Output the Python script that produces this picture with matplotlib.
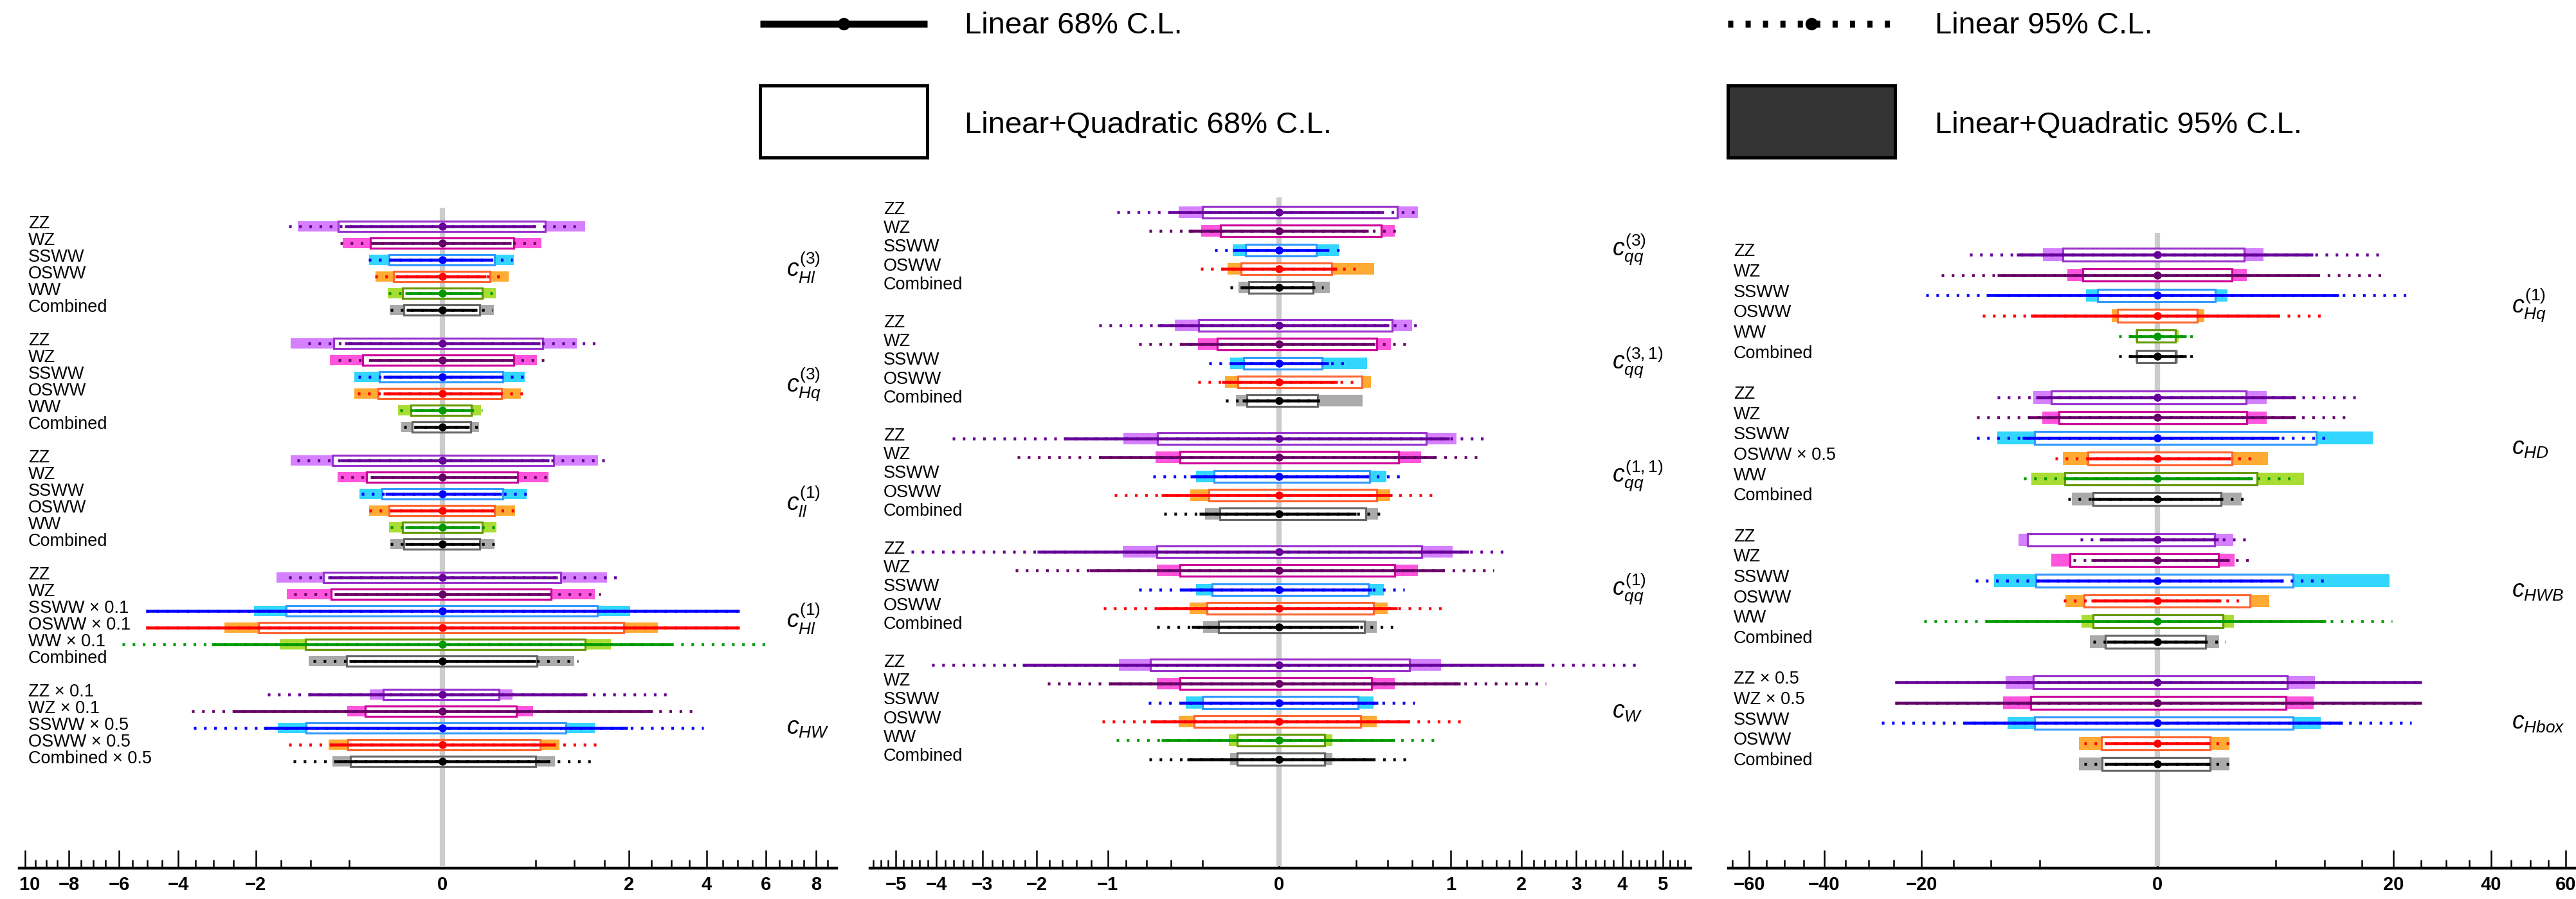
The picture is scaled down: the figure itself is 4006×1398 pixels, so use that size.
import numpy as np
import matplotlib
matplotlib.use('Agg')
import matplotlib.pyplot as plt
from matplotlib import transforms
from matplotlib.patches import Rectangle

plt.rcParams['font.family'] = ['Liberation Sans', 'DejaVu Sans']
plt.rcParams['mathtext.fontset'] = 'custom'
plt.rcParams['mathtext.it'] = 'Liberation Sans:italic'
plt.rcParams['mathtext.rm'] = 'Liberation Sans'

# ---------------- data (values in coefficient units) ----------------
# left panel
cHl3 = dict(label=r'$\mathit{c}_{\mathit{Hl}}^{\mathit{(3)}}$',
            rows=['ZZ', 'WZ', 'SSWW', 'OSWW', 'WW', 'Combined'],
            lin68=[(-0.55, 0.50), (-0.28, 0.27), (-0.15, 0.14), (-0.12, 0.11), (-0.08, 0.08), (-0.075, 0.07)],
            lin95=[(-1.36, 1.02), (-0.60, 0.54), (-0.315, 0.28), (-0.26, 0.23), (-0.166, 0.156), (-0.156, 0.143)],
            lq68=[(-0.62, 0.61), (-0.30, 0.29), (-0.163, 0.156), (-0.137, 0.131), (-0.09, 0.09), (-0.085, 0.08)],
            lq95=[(-1.20, 1.17), (-0.573, 0.561), (-0.306, 0.292), (-0.258, 0.249), (-0.173, 0.163), (-0.159, 0.150)])
cHq3 = dict(label=r'$\mathit{c}_{\mathit{Hq}}^{\mathit{(3)}}$',
            rows=['ZZ', 'WZ', 'SSWW', 'OSWW', 'WW', 'Combined'],
            lin68=[(-0.55, 0.55), (-0.30, 0.28), (-0.20, 0.20), (-0.20, 0.19), (-0.05, 0.045), (-0.045, 0.042)],
            lin95=[(-1.04, 1.36), (-0.625, 0.658), (-0.405, 0.432), (-0.416, 0.427), (-0.103, 0.092), (-0.085, 0.09)],
            lq68=[(-0.678, 0.579), (-0.364, 0.292), (-0.229, 0.209), (-0.237, 0.202), (-0.056, 0.049), (-0.052, 0.045)],
            lq95=[(-1.32, 1.04), (-0.727, 0.512), (-0.443, 0.389), (-0.443, 0.354), (-0.114, 0.085), (-0.097, 0.078)])
cll1 = dict(label=r'$\mathit{c}_{\mathit{ll}}^{\mathit{(1)}}$',
            rows=['ZZ', 'WZ', 'SSWW', 'OSWW', 'WW', 'Combined'],
            lin68=[(-0.60, 0.65), (-0.30, 0.32), (-0.19, 0.20), (-0.15, 0.15), (-0.08, 0.08), (-0.08, 0.08)],
            lin95=[(-1.215, 1.557), (-0.592, 0.672), (-0.374, 0.416), (-0.306, 0.306), (-0.156, 0.166), (-0.156, 0.156)],
            lq68=[(-0.692, 0.706), (-0.33, 0.325), (-0.209, 0.209), (-0.163, 0.156), (-0.09, 0.09), (-0.085, 0.08)],
            lq95=[(-1.32, 1.39), (-0.631, 0.645), (-0.395, 0.405), (-0.306, 0.301), (-0.163, 0.166), (-0.156, 0.156)])
cHl1 = dict(label=r'$\mathit{c}_{\mathit{Hl}}^{\mathit{(1)}}$',
            rows=['ZZ', 'WZ', 'SSWW × 0.1', 'OSWW × 0.1', 'WW × 0.1', 'Combined'],
            lin68=[(-0.75, 0.76), (-0.67, 0.66), (-5.05, 5.05), (-5.05, 5.05), (-3.05, 3.01), (-0.50, 0.50)],
            lin95=[(-1.357, 1.772), (-1.261, 1.435), (-5.05, 5.05), (-5.05, 5.05), (-5.88, 6.02), (-0.956, 1.056)],
            lq68=[(-0.815, 0.80), (-0.713, 0.678), (-1.405, 1.376), (-1.942, 1.884), (-1.073, 1.17), (-0.53, 0.512)],
            lq95=[(-1.578, 1.557), (-1.386, 1.328), (-2.036, 2.024), (-2.727, 2.659), (-1.516, 1.631), (-1.022, 0.997)])
cHW = dict(label=r'$\mathit{c}_{\mathit{HW}}$',
           rows=['ZZ × 0.1', 'WZ × 0.1', 'SSWW × 0.5', 'OSWW × 0.5', 'Combined × 0.5'],
           lin68=[(-1.039, 1.197), (-2.50, 2.54), (-1.83, 1.965), (-0.727, 0.727), (-0.645, 0.658)],
           lin95=[(-1.75, 3.01), (-3.61, 3.61), (-3.55, 3.90), (-1.357, 1.376), (-1.28, 1.29)],
           lq68=[(-0.202, 0.184), (-0.339, 0.315), (-1.064, 0.876), (-0.512, 0.548), (-0.483, 0.50)],
           lq95=[(-0.301, 0.283), (-0.518, 0.471), (-1.557, 1.337), (-0.741, 0.785), (-0.692, 0.727)])

# middle panel
cqq3 = dict(label=r'$\mathit{c}_{\mathit{qq}}^{\mathit{(3)}}$',
            rows=['ZZ', 'WZ', 'SSWW', 'OSWW', 'Combined'],
            lin68=[(-0.411, 0.352), (-0.28, 0.27), (-0.074, 0.080), (-0.113, 0.113), (-0.046, 0.043)],
            lin95=[(-0.894, 0.632), (-0.577, 0.488), (-0.143, 0.136), (-0.21, 0.201), (-0.083, 0.066)],
            lq68=[(-0.201, 0.475), (-0.118, 0.352), (-0.039, 0.046), (-0.050, 0.093), (-0.031, 0.039)],
            lq95=[(-0.344, 0.652), (-0.207, 0.453), (-0.074, 0.12), (-0.091, 0.307), (-0.056, 0.087)])
cqq31 = dict(label=r'$\mathit{c}_{\mathit{qq}}^{\mathit{(3,1)}}$',
             rows=['ZZ', 'WZ', 'SSWW', 'OSWW', 'Combined'],
             lin68=[(-0.506, 0.411), (-0.325, 0.297), (-0.083, 0.083), (-0.113, 0.115), (-0.046, 0.050)],
             lin95=[(-1.105, 0.711), (-0.668, 0.543), (-0.168, 0.16), (-0.225, 0.216), (-0.097, 0.074)],
             lq68=[(-0.222, 0.436), (-0.131, 0.325), (-0.043, 0.0625), (-0.059, 0.231), (-0.035, 0.050)],
             lq95=[(-0.371, 0.602), (-0.225, 0.423), (-0.083, 0.263), (-0.101, 0.287), (-0.064, 0.237)])
cqq11 = dict(label=r'$\mathit{c}_{\mathit{qq}}^{\mathit{(1,1)}}$',
             rows=['ZZ', 'WZ', 'SSWW', 'OSWW', 'Combined'],
             lin68=[(-1.58, 0.987), (-1.105, 0.834), (-0.27, 0.27), (-0.475, 0.432), (-0.216, 0.201)],
             lin95=[(-3.64, 1.43), (-2.34, 1.39), (-0.543, 0.506), (-0.925, 0.834), (-0.453, 0.383)],
             lq68=[(-0.506, 0.738), (-0.333, 0.484), (-0.145, 0.28), (-0.168, 0.322), (-0.12, 0.256)],
             lq95=[(-0.829, 1.072), (-0.52, 0.684), (-0.237, 0.391), (-0.27, 0.419), (-0.187, 0.333)])
cqq1 = dict(label=r'$\mathit{c}_{\mathit{qq}}^{\mathit{(1)}}$',
            rows=['ZZ', 'WZ', 'SSWW', 'OSWW', 'Combined'],
            lin68=[(-1.989, 1.223), (-1.223, 0.925), (-0.325, 0.29), (-0.511, 0.475), (-0.263, 0.216)],
            lin95=[(-4.61, 1.786), (-2.367, 1.5625), (-0.668, 0.534), (-1.052, 0.912), (-0.511, 0.44)],
            lq68=[(-0.511, 0.694), (-0.333, 0.453), (-0.153, 0.27), (-0.179, 0.304), (-0.124, 0.247)],
            lq95=[(-0.834, 1.019), (-0.511, 0.652), (-0.237, 0.371), (-0.273, 0.399), (-0.196, 0.322)])
cW = dict(label=r'$\mathit{c}_{\mathit{W}}$',
          rows=['ZZ', 'WZ', 'SSWW', 'OSWW', 'WW', 'Combined'],
          lin68=[(-2.24, 2.347), (-0.975, 1.119), (-0.325, 0.333), (-0.567, 0.577), (-0.475, 0.453), (-0.29, 0.297)],
          lin95=[(-4.10, 4.34), (-1.829, 2.416), (-0.582, 0.627), (-1.065, 1.153), (-0.906, 0.864), (-0.577, 0.592)],
          lq68=[(-0.567, 0.577), (-0.333, 0.29), (-0.201, 0.21), (-0.247, 0.225), (-0.061, 0.071), (-0.061, 0.071)],
          lq95=[(-0.876, 0.894), (-0.511, 0.453), (-0.297, 0.304), (-0.344, 0.325), (-0.087, 0.097), (-0.083, 0.097)])

# right panel
cHq1 = dict(label=r'$\mathit{c}_{\mathit{Hq}}^{\mathit{(1)}}$',
            rows=['ZZ', 'WZ', 'SSWW', 'OSWW', 'WW', 'Combined'],
            lin68=[(-7.13, 8.72), (-9.22, 9.22), (-10.54, 11.8), (-5.8, 5.31), (-0.308, 0.296), (-0.308, 0.296)],
            lin95=[(-12.68, 18.43), (-16.85, 18.43), (-19.34, 23.4), (-11.02, 10.2), (-0.537, 0.617), (-0.537, 0.617)],
            lq68=[(-3.24, 2.70), (-2.0, 2.0), (-1.279, 1.209), (-0.568, 0.568), (-0.158, 0.112), (-0.158, 0.112)],
            lq95=[(-4.74, 4.04), (-2.91, 2.88), (-1.853, 1.768), (-0.755, 0.792), (-0.175, 0.158), (-0.175, 0.15)])
cHD = dict(label=r'$\mathit{c}_{\mathit{HD}}$',
           rows=['ZZ', 'WZ', 'SSWW', 'OSWW × 0.5', 'WW', 'Combined'],
           lin68=[(-5.31, 6.85), (-6.05, 6.85), (-6.58, 5.31), (-1.85, 1.91), (-3.17, 3.24), (-1.58, 1.45)],
           lin95=[(-9.22, 14.6), (-11.72, 13.66), (-11.72, 10.33), (-3.75, 3.47), (-6.42, 6.32), (-2.88, 2.81)],
           lq68=[(-4.08, 2.81), (-3.47, 2.88), (-5.45, 9.09), (-1.74, 2.0), (-3.09, 3.55), (-1.5, 1.45)],
           lq95=[(-5.55, 4.3), (-4.79, 4.26), (-9.22, 16.68), (-3.24, 4.39), (-5.7, 7.7), (-2.63, 2.53)])
cHWB = dict(label=r'$\mathit{c}_{\mathit{HWB}}$',
            rows=['ZZ', 'WZ', 'SSWW', 'OSWW', 'WW', 'Combined'],
            lin68=[(-1.21, 1.33), (-1.58, 1.85), (-5.31, 5.7), (-1.58, 1.45), (-10.54, 10.2), (-0.93, 0.83)],
            lin95=[(-2.15, 2.88), (-2.57, 3.47), (-11.94, 10.54), (-3.17, 2.81), (-19.6, 19.8), (-1.5, 1.66)],
            lq68=[(-6.06, 1.16), (-2.74, 1.33), (-5.31, 6.58), (-1.94, 3.06), (-1.5, 1.53), (-0.99, 0.83)],
            lq95=[(-6.96, 2.06), (-4.08, 2.15), (-9.61, 19.34), (-3.06, 4.47), (-2.09, 2.09), (-1.66, 1.375)])
cHbox = dict(label=r'$\mathit{c}_{\mathit{Hbox}}$',
             rows=['ZZ × 0.5', 'WZ × 0.5', 'SSWW', 'OSWW', 'Combined'],
             lin68=[(-24.74, 25.05), (-24.74, 25.05), (-13.43, 12.3), (-0.99, 0.99), (-0.99, 0.99)],
             lin95=[(-24.74, 25.05), (-24.74, 25.05), (-27.4, 23.2), (-1.94, 2.06), (-1.94, 2.0)],
             lq68=[(-5.55, 6.06), (-5.8, 5.95), (-5.45, 6.58), (-1.14, 0.99), (-1.096, 0.99)],
             lq95=[(-8.29, 8.91), (-8.6, 8.78), (-8.11, 9.54), (-2.24, 1.853), (-2.21, 1.853)])

# axis ticks
left_major = [-10, -8, -6, -4, -2, 0, 2, 4, 6, 8]
left_major_labels = ['−10', '−8', '−6', '−4', '−2', '0', '2', '4', '6', '8']
mid_major = [-5, -4, -3, -2, -1, 0, 1, 2, 3, 4, 5]
mid_major_labels = ['−5', '−4', '−3', '−2', '−1', '0', '1', '2', '3', '4', '5']
right_major = [-60, -40, -20, 0, 20, 40, 60]
right_major_labels = ['−60', '−40', '−20', '0', '20', '40', '60']

# colours: (line/marker, L+Q 68% box edge, L+Q 95% fill)
COLORS = {
    'ZZ': ('#660099', '#9933cc', '#d580ff'),
    'WZ': ('#660066', '#cc0099', '#ff55dd'),
    'SSWW': ('#0000ff', '#3399ff', '#33d6ff'),
    'OSWW': ('#ff0000', '#ff6633', '#ffaa33'),
    'WW': ('#009900', '#669900', '#aadd33'),
    'Combined': ('#000000', '#666666', '#aaaaaa'),
}

# ---------------- figure ----------------
W, H = 4006, 1398
fig = plt.figure(figsize=(W / 100, H / 100), dpi=100)

def fwd(x):
    x = np.asarray(x, dtype=float)
    return np.sign(x) * np.sqrt(np.abs(x))

def inv(x):
    x = np.asarray(x, dtype=float)
    return np.sign(x) * x ** 2

AX_TOP, AX_BOT = 300.0, 1350.0   # pixel rows (from top)
H95, H68 = 0.62, 0.62
LINE_LW = 3.25
BOX_LW = 2.3

panels = [
    dict(coeffs=[cHl3, cHq3, cll1, cHl1, cHW], x0=29.9, x1=1300.7, xlim=(-10.27, 8.90),
         first=351.7, step=26.0, gray_top=-1.1, major=left_major, labels=left_major_labels,
         minor_step=0.5, minor_range=(-10.0, 8.5), labx=44, coefx=1223, clip=True),
    dict(coeffs=[cqq3, cqq31, cqq11, cqq1, cW], x0=1352.8, x1=2628.7, xlim=(-5.70, 5.75),
         first=330.0, step=29.33, gray_top=-0.8, major=mid_major, labels=mid_major_labels,
         minor_step=0.2, minor_range=(-5.6, 5.6), labx=1374, coefx=2507, clip=False),
    dict(coeffs=[cHq1, cHD, cHWB, cHbox], x0=2687.5, x1=4006.0, xlim=(-66.3, 62.97),
         first=396.0, step=31.67, gray_top=-1.07, major=right_major, labels=right_major_labels,
         minor_step=5.0, minor_range=(-65.0, 60.0), labx=2696, coefx=3906, clip=False),
]

for p in panels:
    ax = fig.add_axes([p['x0'] / W, (H - AX_BOT) / H, (p['x1'] - p['x0']) / W, (AX_BOT - AX_TOP) / H])
    ax.patch.set_visible(False)
    ax.set_xscale('function', functions=(fwd, inv))
    ybot = (AX_BOT - p['first']) / p['step']
    ytop = (AX_TOP - p['first']) / p['step']
    blend = transforms.blended_transform_factory(ax.transAxes, ax.transData)
    tx = (p['labx'] - p['x0']) / (p['x1'] - p['x0'])
    cx = (p['coefx'] - p['x0']) / (p['x1'] - p['x0'])

    # vertical reference line at zero
    ax.plot([0, 0], [p['gray_top'], ybot - 0.09], color='#cccccc', lw=6, zorder=2.6,
            solid_capstyle='butt')

    y0 = 0
    for c in p['coeffs']:
        n = len(c['rows'])
        for i, name in enumerate(c['rows']):
            y = y0 + i
            lc, ec, fc = COLORS[name.split()[0]]
            lo, hi = c['lq95'][i]
            ax.barh(y, hi - lo, left=lo, height=H95, color=fc, linewidth=0, zorder=3)
            lo, hi = c['lq68'][i]
            ax.barh(y, hi - lo, left=lo, height=H68, facecolor='white', edgecolor=ec,
                    linewidth=BOX_LW, zorder=4)
            lo, hi = c['lin95'][i]
            ax.plot([lo, hi], [y, y], color=lc, lw=LINE_LW, ls=(0, (0.9, 2.6)),
                    dash_capstyle='butt', zorder=5)
            lo, hi = c['lin68'][i]
            ax.plot([lo, hi], [y, y], color=lc, lw=LINE_LW, solid_capstyle='butt', zorder=6)
            ax.plot([0], [y], 'o', color=lc, ms=9, mew=0, zorder=7)
            ax.text(tx, y - 0.15, name, transform=blend, fontsize=19.5, va='center', ha='left')
        ax.text(cx, y0 + (n - 1) / 2.0, c['label'], transform=blend, fontsize=27,
                va='center', ha='left')
        y0 += n + 1

    ax.set_xlim(*p['xlim'])
    ax.set_ylim(ybot, ytop)
    for s in ['top', 'left', 'right']:
        ax.spines[s].set_visible(False)
    ax.spines['bottom'].set_linewidth(3.2)
    ax.set_yticks([])
    ax.set_xticks(p['major'], p['labels'], fontweight='bold', fontsize=21)
    mn = np.round(np.arange(p['minor_range'][0], p['minor_range'][1] + 1e-9, p['minor_step']), 3)
    mn = [m for m in mn if not np.any(np.isclose(m, p['major']))]
    ax.set_xticks(mn, minor=True)
    ax.tick_params(axis='x', which='major', direction='in', length=20, width=1.8, pad=9)
    ax.tick_params(axis='x', which='minor', direction='in', length=9.5, width=1.8)
    if p['clip']:
        bb = transforms.TransformedBbox(
            transforms.Bbox.from_extents(p['x0'] / W, 0, 1, 1), fig.transFigure)
        for t in ax.xaxis.get_major_ticks():
            t.label1.set_clip_box(bb)
            t.label1.set_clip_on(True)

# ---------------- legend ----------------
lg = fig.add_axes([0, 0, 1, 1])
lg.set_xlim(0, W)
lg.set_ylim(H, 0)
lg.axis('off')
lg.patch.set_visible(False)
lg.plot([1182, 1442], [37, 37], color='k', lw=7.7, solid_capstyle='butt')
lg.plot([1312], [37], 'o', color='k', ms=14, mew=0)
lg.plot([2687, 2947], [37, 37], color='k', lw=7.7, ls=(0, (0.75, 1.78)), dash_capstyle='butt')
lg.plot([2817], [37], 'o', color='k', ms=14, mew=0)
lg.add_patch(Rectangle((1182, 133), 260, 112, facecolor='white', edgecolor='k', lw=3.6))
lg.add_patch(Rectangle((2687, 133), 260, 112, facecolor='#333333', edgecolor='k', lw=3.6))
lg.text(1500, 52, 'Linear 68% C.L.', fontsize=34, va='baseline', ha='left')
lg.text(3009, 52, 'Linear 95% C.L.', fontsize=34, va='baseline', ha='left')
lg.text(1500, 207, 'Linear+Quadratic 68% C.L.', fontsize=34, va='baseline', ha='left')
lg.text(3009, 207, 'Linear+Quadratic 95% C.L.', fontsize=34, va='baseline', ha='left')

fig.savefig('out.png', dpi=100, facecolor='white')
